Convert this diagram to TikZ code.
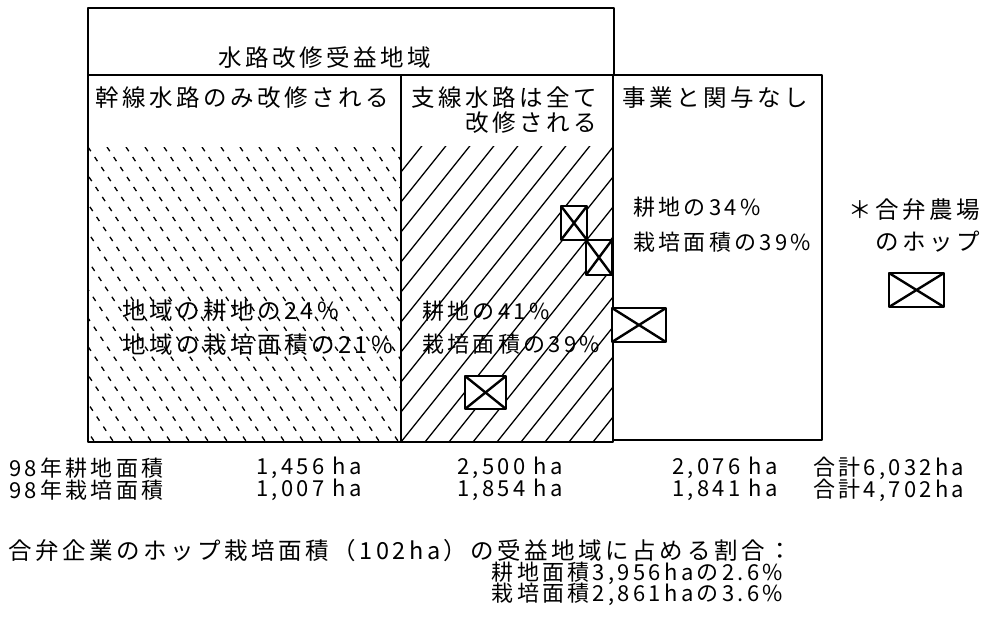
\documentclass[tikz,border=0pt]{standalone}
\usepackage{fontspec}
\usetikzlibrary{calc}
\newfontfamily\jp[LetterSpace=15]{Noto Sans CJK JP}
\begin{document}
\begin{tikzpicture}[x=1pt,y=-1pt,line join=round,
  frame/.style={draw,line width=1.8pt},
  lbl/.style={inner sep=0pt,anchor=west,font=\jp\fontsize{23.5}{28}\selectfont},
  lble/.style={inner sep=0pt,anchor=east,font=\jp\fontsize{22}{26}\selectfont},
  tbl/.style={inner sep=0pt,anchor=west,font=\jp\fontsize{22}{26}\selectfont},
  hop/.style={draw,fill=white,line width=2.4pt,inner sep=0pt,
    path picture={\draw[line width=2.4pt]
      (path picture bounding box.north west) -- (path picture bounding box.south east)
      (path picture bounding box.south west) -- (path picture bounding box.north east);}},
  dhatch/.style={line width=1.3pt,dash pattern=on 5pt off 7pt},
  shatch/.style={line width=1.3pt}]
\useasboundingbox (0,0) rectangle (981,623);
% hatching
\begin{scope}
  \clip (88,147) rectangle (401,442);
  \foreach \i in {-12,...,17} {\draw[dhatch] (88+\i*19,147) -- ++(300,450);}
\end{scope}
\begin{scope}
  \clip (401,146) rectangle (613,442);
  \foreach \i in {-11,...,19} {\draw[shatch] (161+\i*24,442) -- ++(360,-450);}
\end{scope}
% frames
\draw[frame] (88,8) rectangle (614,75);
\draw[frame] (88,75) rectangle (401,442);
\draw[frame] (401,75) rectangle (613,442);
\draw[frame] (613,75) rectangle (822,440);
% titles
\node[lbl] (hdr) at (218,58) {水路改修受益地域};
\node[lbl] (t1) at (95,98) {幹線水路のみ改修される};
\node[lbl] (t2) at (411,98) {支線水路は全て};
\node[inner sep=0pt,anchor=east,font=\jp\fontsize{23.5}{28}\selectfont] (t2b) at ($(t2.east)+(0,25)$) {改修される};
\node[lbl] (t3) at (622,98) {事業と関与なし};
% inner texts
\node[lbl] (a1) at (122,311) {地域の耕地の24\%};
\node[lbl] (a2) at (122,345) {地域の栽培面積の21\%};
\node[tbl] (b1) at (422,311) {耕地の41\%};
\node[tbl] (b2) at (422,344) {栽培面積の39\%};
\node[tbl] (c1) at (633,207) {耕地の34\%};
\node[tbl] (c2) at (633,242) {栽培面積の39\%};
\node[lbl] (g1) at (848,210) {＊合弁農場};
\node[lbl] (g2) at (848,242) {　のホップ};
% hop boxes
\node[hop,minimum width=26pt,minimum height=34pt] (hA) at (574,223) {};
\node[hop,minimum width=26pt,minimum height=35pt] (hB) at (599,257.5) {};
\node[hop,minimum width=54pt,minimum height=34pt] (hC) at (639,325) {};
\node[hop,minimum width=41pt,minimum height=33pt] (hD) at (485.5,392.5) {};
\node[hop,minimum width=55pt,minimum height=34pt] (hL) at (916.5,290) {};
% table rows
\node[tbl] (r1) at (9,468) {98年耕地面積};
\node[tbl] (r1a) at (256,468) {1,456 ha};
\node[tbl] (r1b) at (457,468) {2,500 ha};
\node[tbl] (r1c) at (672,468) {2,076 ha};
\node[tbl] (r1d) at (813,468) {合計6,032ha};
\node[tbl] (r2) at (9,490) {98年栽培面積};
\node[tbl] (r2a) at (256,490) {1,007 ha};
\node[tbl] (r2b) at (457,490) {1,854 ha};
\node[tbl] (r2c) at (672,490) {1,841 ha};
\node[tbl] (r2d) at (813,490) {合計4,702ha};
% bottom note
\node[lbl] (n1) at (8,551) {合弁企業のホップ栽培面積（102ha）の受益地域に占める割合：};
\node[lble] (n2) at (783,573) {耕地面積3,956haの2.6\%};
\node[lble] (n3) at (783,594) {栽培面積2,861haの3.6\%};
\end{tikzpicture}
\end{document}
